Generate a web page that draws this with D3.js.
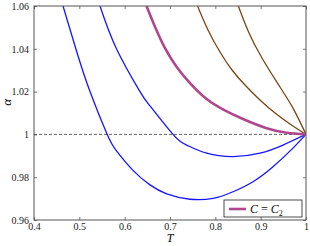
<!DOCTYPE html>
<html>
<head>
<meta charset="utf-8">
<script src="https://cdn.jsdelivr.net/npm/d3@7"></script>
<style>
  body { margin: 0; background: #fff; }
  svg { display: block; }
</style>
</head>
<body>
<svg id="chart"></svg>
<script>
// values (T, alpha)
const xTicks = [0.4, 0.5, 0.6, 0.7, 0.8, 0.9, 1];
const yTicks = [0.96, 0.98, 1, 1.02, 1.04, 1.06];

const blueLowT = [0.464, 0.4926, 0.5235, 0.5615, 0.5824, 0.6184, 0.6559, 0.6927, 0.7441, 0.7949, 0.839, 0.8831, 0.9272, 0.9713, 1];
const blueLowA = [1.06, 1.0398, 1.02, 1.0, 0.9922, 0.9832, 0.9764, 0.9722, 0.9697, 0.9701, 0.9732, 0.9779, 0.9849, 0.9936, 1];

const blueHighT = [0.5456, 0.5824, 0.6338, 0.6559, 0.7066, 0.7368, 0.781, 0.839, 0.8985, 0.9493, 1];
const blueHighA = [1.06, 1.0398, 1.02, 1.0133, 1.0, 0.995, 0.9912, 0.9896, 0.9912, 0.995, 1];

const critT = [0.6482, 0.6669, 0.689, 0.7148, 0.7441, 0.7809, 0.8176, 0.861, 0.9133, 0.9574, 1];
const critA = [1.06, 1.0503, 1.0403, 1.0315, 1.024, 1.0165, 1.0116, 1.0072, 1.0029, 1.0008, 1];

const brownAT = [0.7607, 0.7838, 0.8103, 0.8368, 0.8654, 0.8985, 0.9316, 0.9647, 1];
const brownAA = [1.06, 1.0488, 1.0385, 1.0301, 1.0231, 1.0161, 1.01, 1.0049, 1];

const brownBT = [0.8507, 0.8743, 0.9029, 0.9382, 0.9713, 1];
const brownBA = [1.06, 1.0474, 1.0357, 1.0236, 1.0123, 1];

const W = 310, H = 246;
const margin = {left: 34, top: 6, right: 4, bottom: 26};
const w = W - margin.left - margin.right;
const h = H - margin.top - margin.bottom;
const serif = "'Liberation Serif', 'Times New Roman', serif";

const svg = d3.select("#chart").attr("width", W).attr("height", H);
const g = svg.append("g").attr("transform", "translate(" + margin.left + "," + margin.top + ")");

const x = d3.scaleLinear().domain([0.4, 1]).range([0, w]);
const y = d3.scaleLinear().domain([0.96, 1.06]).range([h, 0]);

g.append("clipPath").attr("id", "clip")
  .append("rect").attr("width", w).attr("height", h);

const fmt = d => String(d);
const axisColor = "#555";

const styleAxis = sel => {
  sel.attr("font-family", null).attr("font-size", null);
  sel.select(".domain").remove();
  sel.selectAll(".tick line").attr("stroke", axisColor).attr("stroke-width", 0.8);
  sel.selectAll(".tick text").attr("fill", "#222")
    .style("font-family", serif).style("font-size", "10px");
};

g.append("g").attr("transform", "translate(0," + h + ")")
  .call(d3.axisBottom(x).tickValues(xTicks).tickFormat(fmt).tickSizeInner(-3).tickSizeOuter(0).tickPadding(3))
  .call(styleAxis);
g.append("g")
  .call(d3.axisTop(x).tickValues(xTicks).tickFormat("").tickSizeInner(-3).tickSizeOuter(0))
  .call(styleAxis);
g.append("g")
  .call(d3.axisLeft(y).tickValues(yTicks).tickFormat(fmt).tickSizeInner(-3).tickSizeOuter(0).tickPadding(5))
  .call(styleAxis);
g.append("g").attr("transform", "translate(" + w + ",0)")
  .call(d3.axisRight(y).tickValues(yTicks).tickFormat("").tickSizeInner(-3).tickSizeOuter(0))
  .call(styleAxis);

// dashed reference at alpha = 1
g.append("line")
  .attr("x1", 0).attr("x2", w)
  .attr("y1", y(1)).attr("y2", y(1))
  .attr("stroke", "#222").attr("stroke-width", 0.7)
  .attr("stroke-dasharray", "3,2");

const line = d3.line().x(d => x(d[0])).y(d => y(d[1])).curve(d3.curveNatural);
const pair = (ts, as) => ts.map((t, i) => [t, as[i]]);

const series = [
  {pts: pair(blueLowT, blueLowA), color: "#1515ff", width: 1.3},
  {pts: pair(blueHighT, blueHighA), color: "#1515ff", width: 1.3},
  {pts: pair(brownAT, brownAA), color: "#7a4414", width: 1.3},
  {pts: pair(brownBT, brownBA), color: "#7a4414", width: 1.3},
  {pts: pair(critT, critA), color: "#b0478e", width: 2.6}
];

g.append("g").attr("clip-path", "url(#clip)")
  .selectAll("path")
  .data(series)
  .enter()
  .append("path")
  .attr("d", d => line(d.pts))
  .attr("fill", "none")
  .attr("stroke", d => d.color)
  .attr("stroke-width", d => d.width);

// frame
g.append("rect").attr("width", w).attr("height", h)
  .attr("fill", "none").attr("stroke", axisColor).attr("stroke-width", 1);

// legend
const lg = g.append("g").attr("transform", "translate(" + (w - 82) + "," + (h - 20) + ")");
lg.append("rect").attr("width", 78).attr("height", 17)
  .attr("fill", "#fff").attr("stroke", "#222").attr("stroke-width", 0.8);
lg.append("line").attr("x1", 5).attr("x2", 22).attr("y1", 9).attr("y2", 9)
  .attr("stroke", "#b0478e").attr("stroke-width", 2.6);
const lt = lg.append("text").attr("x", 26).attr("y", 13)
  .style("font-family", serif).style("font-size", "12px").attr("fill", "#111");
lt.append("tspan").style("font-style", "italic").text("C");
lt.append("tspan").text(" = ");
lt.append("tspan").style("font-style", "italic").text("C");
lt.append("tspan").attr("dy", 3).style("font-size", "8px").text("2");

// axis titles
svg.append("text")
  .attr("transform", "translate(11," + (margin.top + y(1.015)) + ") rotate(-90)")
  .attr("text-anchor", "middle")
  .style("font-family", serif)
  .style("font-size", "13px")
  .style("font-style", "italic")
  .text("α");
svg.append("text")
  .attr("x", margin.left + x(0.7))
  .attr("y", 242)
  .attr("text-anchor", "middle")
  .style("font-family", serif)
  .style("font-size", "12px")
  .style("font-style", "italic")
  .text("T");
</script>
</body>
</html>
